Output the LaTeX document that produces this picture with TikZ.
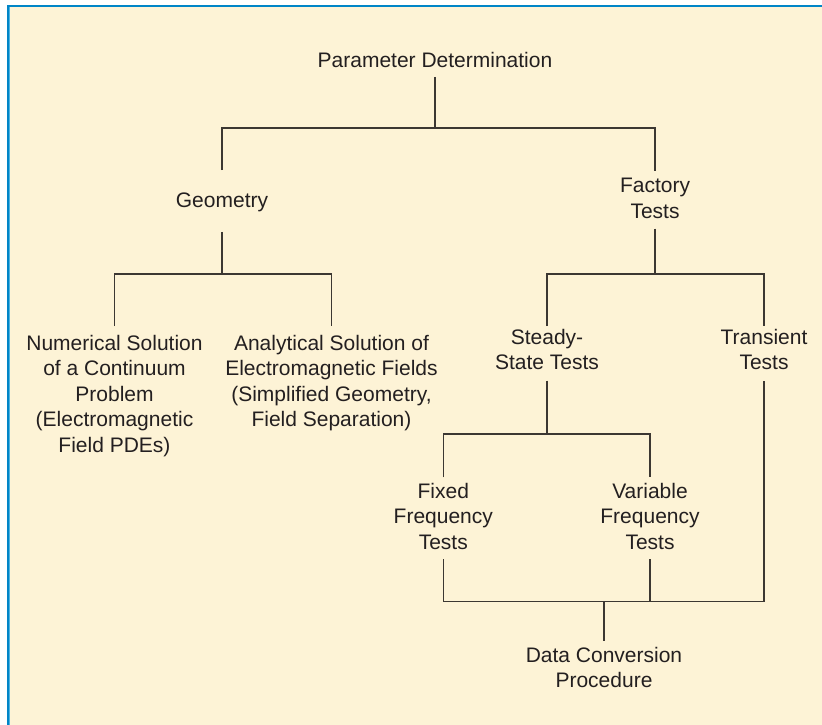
\documentclass[tikz,border=0pt]{standalone}
\usepackage{fontspec}
\setmainfont{Liberation Sans}
\definecolor{bg}{HTML}{FDF3D6}
\definecolor{frameblue}{HTML}{0085C7}
\definecolor{framelight}{HTML}{4FB3E0}
\definecolor{ln}{HTML}{3C3732}
\definecolor{txt}{HTML}{231F20}
\begin{document}
\begin{tikzpicture}[x=1pt,y=-1pt,
  lbl/.style={inner sep=0pt, outer sep=0pt, align=center, anchor=north, text=txt,
    font=\fontsize{21}{25.5}\selectfont,
    execute at begin node=\strut, execute at end node=\strut},
  conn/.style={draw=ln, line width=1.5pt, line join=miter}]
% background and frame
\fill[white] (0,0) rectangle (822,725);
\fill[frameblue] (6.7,4.7) rectangle (822,725);
\fill[framelight] (9,6.7) rectangle (822,725);
\fill[bg] (10,7.3) rectangle (822,725);
\useasboundingbox (0,0) rectangle (822,725);
% nodes
\node[lbl] (pd)  at (435,{67.5-17.85}) {Parameter Determination};
\node[lbl] (geo) at (222,{207.5-17.85}) {Geometry};
\node[lbl] (fac) at (655,{196.2-17.85}) {Factory\\Tests};
\node[lbl] (num) at (114.5,{352.7-17.85}) {Numerical Solution\\of a Continuum\\Problem\\(Electromagnetic\\Field PDEs)};
\node[lbl] (ana) at (331.5,{352.7-17.85}) {Analytical Solution of\\Electromagnetic Fields\\(Simplified Geometry,\\Field Separation)};
\node[lbl] (ss)  at (547,{346.7-17.85}) {Steady-\\State Tests};
\node[lbl] (tr)  at (764,{346.7-17.85}) {Transient\\Tests};
\node[lbl] (fix) at (443.3,{500.7-17.85}) {Fixed\\Frequency\\Tests};
\node[lbl] (var) at (650,{500.7-17.85}) {Variable\\Frequency\\Tests};
\node[lbl] (dcp) at (604,{665-17.85}) {Data Conversion\\Procedure};
% junctions
\coordinate (j0) at (435,128);
\coordinate (jg) at (222,274);
\coordinate (jf) at (655,274);
\coordinate (js) at (547,434);
\coordinate (jd) at (604,601.7);
% connectors
\draw[conn, shorten <=1.85pt] (pd.south) -- (j0);
\draw[conn, shorten <=19.6pt, shorten >=7.35pt] (geo.north) |- (j0) -| (fac.north);
\draw[conn, shorten <=16.8pt] (geo.south) -- (jg);
\draw[conn, shorten <=8.85pt, shorten >=8.85pt] (num.north) |- (jg) -| (ana.north);
\draw[conn, shorten <=2.65pt] (fac.south) -- (jf);
\draw[conn, shorten <=2.85pt, shorten >=2.85pt] (ss.north) |- (jf) -| (tr.north);
\draw[conn, shorten <=3.35pt] (ss.south) -- (js);
\draw[conn, shorten <=5.5pt, shorten >=5.5pt] (fix.north) |- (js) -| (var.north);
\draw[conn, shorten <=2.35pt, shorten >=3.35pt] (fix.south) |- (jd) -| (tr.south);
\draw[conn, shorten <=2.35pt] (var.south) -- (var.south |- jd);
\draw[conn, shorten >=6.15pt] (jd) -- (dcp.north);
\end{tikzpicture}
\end{document}
